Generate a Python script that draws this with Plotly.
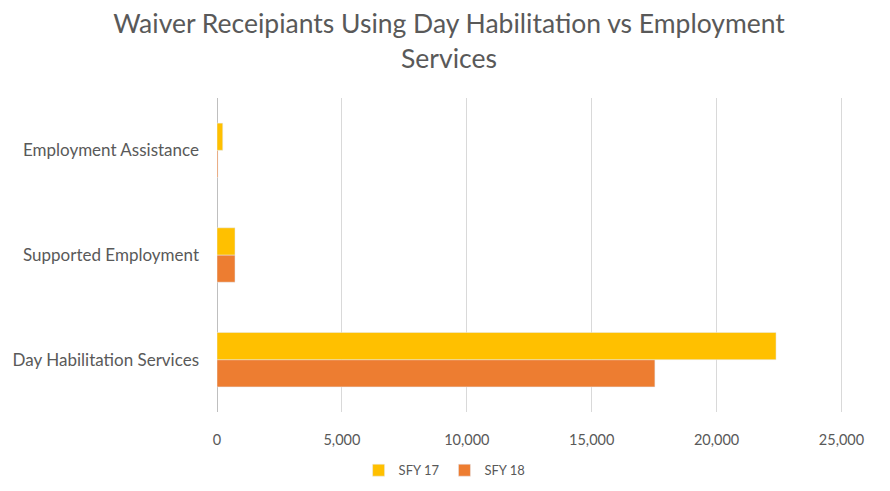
import plotly.graph_objects as go

categories = ["Day Habilitation Services", "Supported Employment", "Employment Assistance"]
sfy17 = [22380, 720, 230]
sfy18 = [17530, 720, 40]
series_names = ["SFY 17", "SFY 18"]
tick_vals = [0, 5000, 10000, 15000, 20000, 25000]

gray = "#595959"
font_family = "Lato, Open Sans, Liberation Sans, sans-serif"

fig = go.Figure()
fig.add_trace(go.Bar(y=categories, x=sfy18, name=series_names[1], orientation="h",
                     marker_color="#ED7D31"))
fig.add_trace(go.Bar(y=categories, x=sfy17, name=series_names[0], orientation="h",
                     marker_color="#FFC000"))

fig.update_layout(
    width=882, height=483,
    paper_bgcolor="white", plot_bgcolor="white",
    barmode="group", bargap=0.48, bargroupgap=0,
    margin=dict(l=209, r=46, t=90, b=79),
    font=dict(family=font_family, color=gray, size=13),
    title=dict(text="Waiver Receipiants Using Day Habilitation vs Employment<br>Services",
               x=0.5, xanchor="center", xref="container",
               y=0.948, yanchor="middle", yref="container",
               font=dict(size=26.5, color=gray, family=font_family)),
    legend=dict(orientation="h", x=0.495, xanchor="center", xref="container",
                y=0.043, yanchor="middle", yref="container",
                traceorder="reversed", font=dict(size=13, color=gray)),
    xaxis=dict(range=[0, 25100], tickvals=tick_vals, tickformat=",",
               showgrid=True, gridcolor="#D9D9D9", gridwidth=1,
               zeroline=True, zerolinecolor="#BFBFBF", zerolinewidth=1,
               tickfont=dict(size=14.5, color=gray), ticks="", ticklabelstandoff=17,
               automargin=False),
    yaxis=dict(type="category", categoryorder="array", categoryarray=categories,
               showgrid=False, tickfont=dict(size=17, color=gray), ticks="",
               ticklabelstandoff=17, showline=False, automargin=False),
)

fig.write_html("out.html")
